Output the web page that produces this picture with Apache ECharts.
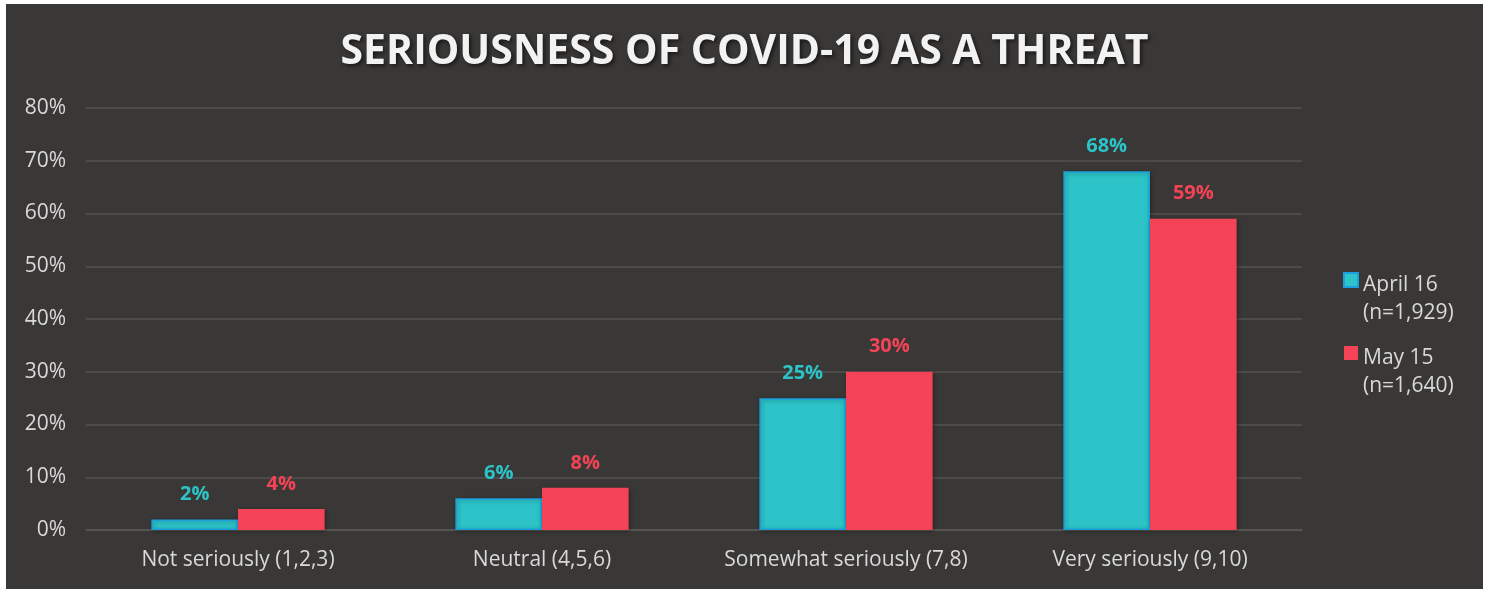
<!DOCTYPE html>
<html><head><meta charset="utf-8">
<script src="https://cdn.jsdelivr.net/npm/echarts@6/dist/echarts.min.js"></script>
<style>
html,body{margin:0;padding:0;background:#fff;width:1489px;height:589px;overflow:hidden}
#wrap{position:absolute;left:6px;top:4px;width:1477px;height:585px;background:#3a3836}
#c{width:1477px;height:585px}
</style></head><body>
<div id="wrap"><div id="c"></div></div>
<script>
var title = 'SERIOUSNESS OF COVID-19 AS A THREAT';
var categories = ['Not seriously (1,2,3)', 'Neutral (4,5,6)', 'Somewhat seriously (7,8)', 'Very seriously (9,10)'];
var seriesNames = ['April 16\n(n=1,929)', 'May 15\n(n=1,640)'];
var april16 = [2, 6, 25, 68];
var may15 = [4, 8, 30, 59];
var yTicks = [0, 10, 20, 30, 40, 50, 60, 70, 80];

var TEAL = '#2cc4c8', RED = '#f44357';
var font = '"Open Sans", "Noto Sans", sans-serif';
var chart = echarts.init(document.getElementById('c'));
var iconPath = 'path://M0,0H14V14H0Z M0,52';
chart.setOption({
  backgroundColor: 'transparent',
  title: {
    text: title, left: 'center', top: 23,
    textStyle: {color: '#f2f2f2', fontFamily: font, fontWeight: 'bold', fontSize: 41,
      textShadowColor: 'rgba(0,0,0,0.6)', textShadowBlur: 4, textShadowOffsetX: 2, textShadowOffsetY: 2}
  },
  legend: {
    orient: 'vertical', left: 1332, top: 262, itemGap: 17,
    itemWidth: 14, itemHeight: 52, icon: iconPath,
    textStyle: {color: '#d9d9d9', fontFamily: font, fontSize: 21, lineHeight: 28},
    data: seriesNames
  },
  grid: {left: 80, right: 181, top: 104, bottom: 59},
  xAxis: {
    type: 'category', data: categories,
    axisLine: {lineStyle: {color: '#5a5856', width: 1.5}},
    axisTick: {show: false},
    axisLabel: {interval: 0, color: '#d9d9d9', fontFamily: font, fontSize: 21, margin: 20}
  },
  yAxis: {
    type: 'value', min: 0, max: 80, interval: 10,
    axisLine: {show: false}, axisTick: {show: false},
    splitLine: {lineStyle: {color: '#545250', width: 1.5}},
    axisLabel: {color: '#d9d9d9', fontFamily: font, fontSize: 21, margin: 20,
      formatter: function (v) { return yTicks.indexOf(v) >= 0 ? v + '%' : ''; }}
  },
  series: [
    {name: seriesNames[0], type: 'bar', data: april16, barGap: '0%', barCategoryGap: '43%',
      itemStyle: {color: TEAL, borderColor: '#1aa0dc', borderWidth: 1.5,
        shadowColor: 'rgba(0,0,0,0.35)', shadowBlur: 4, shadowOffsetX: 1, shadowOffsetY: 1},
      label: {show: true, position: 'top', distance: 15, formatter: '{c}%',
        color: TEAL, fontFamily: font, fontWeight: 'bold', fontSize: 20}},
    {name: seriesNames[1], type: 'bar', data: may15,
      itemStyle: {color: RED,
        shadowColor: 'rgba(0,0,0,0.35)', shadowBlur: 4, shadowOffsetX: 1, shadowOffsetY: 1},
      label: {show: true, position: 'top', distance: 15, formatter: '{c}%',
        color: RED, fontFamily: font, fontWeight: 'bold', fontSize: 20}}
  ]
});
</script>
</body></html>
